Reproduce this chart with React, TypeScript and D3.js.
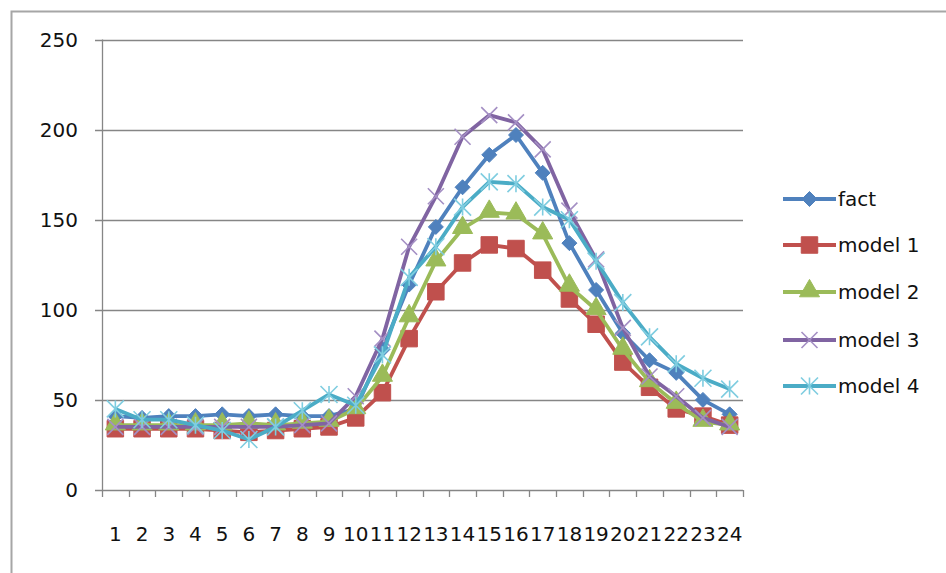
import { useEffect, useRef } from "react";
import * as d3 from "d3";

const HOURS = d3.range(1, 25).map(String);
const Y_TICKS = [0, 50, 100, 150, 200, 250];

const FACT = [41, 40, 41, 41, 42, 41, 42, 41, 41, 45, 78, 114, 146, 168, 186, 197, 176, 137, 111, 87, 72, 65, 50, 42];
const MODEL_1 = [34, 34, 34, 34, 33, 32, 33, 34, 35, 40, 54, 84, 110, 126, 136, 134, 122, 106, 92, 71, 57, 45, 41, 36];
const MODEL_2 = [36, 36, 36, 36, 36, 37, 36, 37, 38, 45, 63, 96, 127, 145, 154, 153, 142, 113, 100, 78, 60, 48, 38, 36];
const MODEL_3 = [35, 35, 35, 35, 35, 35, 35, 36, 37, 52, 84, 135, 163, 196, 208, 204, 189, 155, 128, 90, 63, 52, 40, 35];
const MODEL_4 = [45, 39, 39, 36, 33, 28, 35, 44, 53, 47, 75, 118, 135, 157, 171, 170, 157, 150, 127, 104, 85, 70, 62, 56];

const SERIES_NAMES = ["fact", "model 1", "model 2", "model 3", "model 4"];
const SERIES_VALUES = [FACT, MODEL_1, MODEL_2, MODEL_3, MODEL_4];

// Excel 2007 palette
const COLORS = ["#4F81BD", "#C0504D", "#9BBB59", "#8064A2", "#4BACC6"];
const MARKERS = ["diamond", "square", "triangle", "x", "star"];

const W = 946;
const H = 573;
const PLOT = { left: 102, right: 743, top: 39.5, bottom: 490 };
const FONT = "'DejaVu Sans', sans-serif";
const GRID = "#868686";
const TEXT = "#111";

function drawMarker(g: d3.Selection<SVGGElement, unknown, null, undefined>, kind: string, x: number, y: number, color: string) {
  if (kind === "diamond") {
    const r = 7.5;
    g.append("path")
      .attr("d", `M${x},${y - r}L${x + r},${y}L${x},${y + r}L${x - r},${y}Z`)
      .attr("fill", color)
      .attr("stroke", color);
  } else if (kind === "square") {
    g.append("path")
      .attr("d", d3.symbol(d3.symbolSquare, 272)())
      .attr("transform", `translate(${x},${y})`)
      .attr("fill", color)
      .attr("stroke", color);
  } else if (kind === "triangle") {
    g.append("path")
      .attr("d", d3.symbol(d3.symbolTriangle, 175)())
      .attr("transform", `translate(${x},${y - 1})`)
      .attr("fill", color)
      .attr("stroke", color);
  } else if (kind === "x") {
    const r = 8;
    g.append("path")
      .attr("d", `M${x - r},${y - r}L${x + r},${y + r}M${x - r},${y + r}L${x + r},${y - r}`)
      .attr("stroke", "#a48fc4")
      .attr("stroke-width", 1.6)
      .attr("fill", "none");
  } else {
    const r = 8.5;
    g.append("path")
      .attr(
        "d",
        `M${x - r},${y - r}L${x + r},${y + r}M${x - r},${y + r}L${x + r},${y - r}M${x},${y - r}L${x},${y + r}`,
      )
      .attr("stroke", "#7fcde0")
      .attr("stroke-width", 1.6)
      .attr("fill", "none");
  }
}

export default function App() {
  const svgRef = useRef<SVGSVGElement>(null);

  useEffect(() => {
    const svg = d3.select(svgRef.current);
    svg.selectAll("*").remove();

    const x = d3.scaleBand<string>().domain(HOURS).range([PLOT.left, PLOT.right]).padding(0);
    const y = d3.scaleLinear().domain([0, 250]).range([PLOT.bottom, PLOT.top]);
    const cx = (h: string) => (x(h) ?? 0) + x.bandwidth() / 2;

    // outer chart border (runs off the right / bottom edge)
    svg.append("path")
      .attr("d", `M11.5,${H + 5}L11.5,11.5L${W + 5},11.5`)
      .attr("fill", "none")
      .attr("stroke", "#a6a6a6")
      .attr("stroke-width", 2);

    const g = svg.append("g");

    // gridlines + y ticks
    Y_TICKS.forEach((t) => {
      g.append("line")
        .attr("x1", PLOT.left - 7)
        .attr("x2", PLOT.right)
        .attr("y1", Math.round(y(t)) + 0.5)
        .attr("y2", Math.round(y(t)) + 0.5)
        .attr("stroke", GRID)
        .attr("stroke-width", 1.3);
      g.append("text")
        .attr("x", 78)
        .attr("y", y(t))
        .attr("text-anchor", "end")
        .attr("dominant-baseline", "central")
        .attr("font-family", FONT)
        .attr("font-size", "20px")
        .attr("fill", TEXT)
        .text(String(t));
    });

    // y axis line
    g.append("line")
      .attr("x1", PLOT.left + 0.5)
      .attr("x2", PLOT.left + 0.5)
      .attr("y1", PLOT.top)
      .attr("y2", PLOT.bottom)
      .attr("stroke", GRID)
      .attr("stroke-width", 1.3);

    // x ticks between categories
    d3.range(HOURS.length + 1).forEach((i) => {
      const xx = Math.round(PLOT.left + i * x.bandwidth()) + 0.5;
      g.append("line")
        .attr("x1", xx)
        .attr("x2", xx)
        .attr("y1", PLOT.bottom)
        .attr("y2", PLOT.bottom + 7)
        .attr("stroke", GRID)
        .attr("stroke-width", 1.3);
    });

    HOURS.forEach((h) => {
      g.append("text")
        .attr("x", cx(h))
        .attr("y", 534)
        .attr("text-anchor", "middle")
        .attr("dominant-baseline", "central")
        .attr("font-family", FONT)
        .attr("font-size", "20px")
        .attr("fill", TEXT)
        .text(h);
    });

    // series
    const line = d3
      .line<number>()
      .x((_, i) => cx(HOURS[i]))
      .y((v) => y(v));

    SERIES_VALUES.forEach((vals, s) => {
      const sg = g.append("g");
      sg.append("path")
        .attr("d", line(vals))
        .attr("fill", "none")
        .attr("stroke", COLORS[s])
        .attr("stroke-width", 3.8)
        .attr("stroke-linejoin", "round");
      vals.forEach((v, i) => drawMarker(sg, MARKERS[s], cx(HOURS[i]), y(v), COLORS[s]));
    });

    // legend
    const LEGEND_Y = [199, 245, 292, 340, 386];
    SERIES_NAMES.forEach((name, s) => {
      const lg = g.append("g");
      const ly = LEGEND_Y[s];
      lg.append("line")
        .attr("x1", 783)
        .attr("x2", 836)
        .attr("y1", ly)
        .attr("y2", ly)
        .attr("stroke", COLORS[s])
        .attr("stroke-width", 3.8);
      drawMarker(lg, MARKERS[s], 809.5, ly, COLORS[s]);
      lg.append("text")
        .attr("x", 838)
        .attr("y", ly)
        .attr("dominant-baseline", "central")
        .attr("font-family", FONT)
        .attr("font-size", "20px")
        .attr("fill", TEXT)
        .text(name);
    });
  }, []);

  return (
    <svg
      ref={svgRef}
      width={W}
      height={H}
      style={{ position: "absolute", left: 0, top: 0, background: "#fff" }}
    />
  );
}
